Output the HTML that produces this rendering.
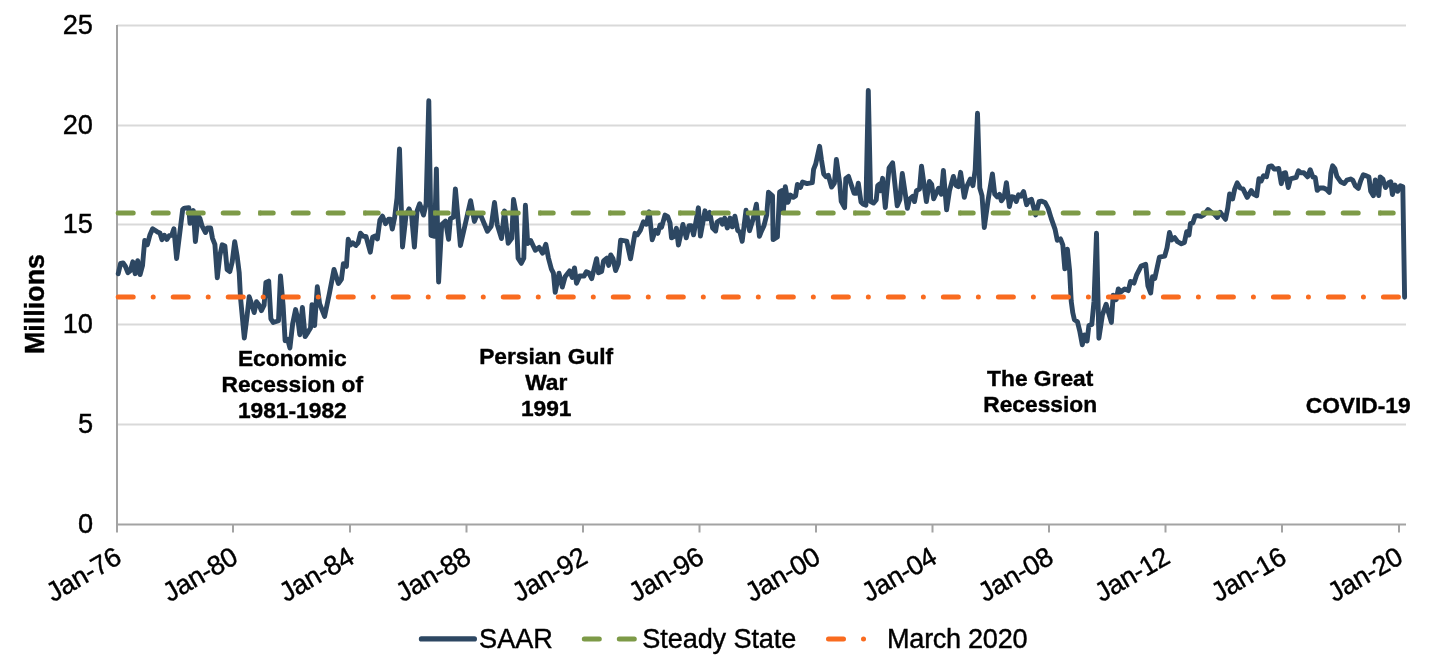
<!DOCTYPE html>
<html lang="en"><head><meta charset="utf-8"><title>SAAR chart</title>
<style>html,body{margin:0;padding:0;background:#fff}body{width:1447px;height:662px;overflow:hidden}</style></head>
<body>
<svg width="1447" height="662" viewBox="0 0 1447 662" style="display:block;font-family:'Liberation Sans',Arial,sans-serif">
<rect width="1447" height="662" fill="#fff"/>
<line x1="117.0" x2="1406.0" y1="424.5" y2="424.5" stroke="#d9d9d9" stroke-width="2"/>
<line x1="117.0" x2="1406.0" y1="324.5" y2="324.5" stroke="#d9d9d9" stroke-width="2"/>
<line x1="117.0" x2="1406.0" y1="224.5" y2="224.5" stroke="#d9d9d9" stroke-width="2"/>
<line x1="117.0" x2="1406.0" y1="125.5" y2="125.5" stroke="#d9d9d9" stroke-width="2"/>
<line x1="117.0" x2="1406.0" y1="25.5" y2="25.5" stroke="#d9d9d9" stroke-width="2"/>
<line x1="117.0" x2="117.0" y1="24.9" y2="532.5" stroke="#a3a3a3" stroke-width="2"/>
<line x1="116.0" x2="1406.0" y1="524.5" y2="524.5" stroke="#a3a3a3" stroke-width="2"/>
<line x1="233" x2="233" y1="524.5" y2="532.5" stroke="#a3a3a3" stroke-width="2"/>
<line x1="350.0" x2="350.0" y1="524.5" y2="532.5" stroke="#a3a3a3" stroke-width="2"/>
<line x1="466.5" x2="466.5" y1="524.5" y2="532.5" stroke="#a3a3a3" stroke-width="2"/>
<line x1="583.0" x2="583.0" y1="524.5" y2="532.5" stroke="#a3a3a3" stroke-width="2"/>
<line x1="699.5" x2="699.5" y1="524.5" y2="532.5" stroke="#a3a3a3" stroke-width="2"/>
<line x1="816.0" x2="816.0" y1="524.5" y2="532.5" stroke="#a3a3a3" stroke-width="2"/>
<line x1="932.5" x2="932.5" y1="524.5" y2="532.5" stroke="#a3a3a3" stroke-width="2"/>
<line x1="1049.0" x2="1049.0" y1="524.5" y2="532.5" stroke="#a3a3a3" stroke-width="2"/>
<line x1="1165.5" x2="1165.5" y1="524.5" y2="532.5" stroke="#a3a3a3" stroke-width="2"/>
<line x1="1282.0" x2="1282.0" y1="524.5" y2="532.5" stroke="#a3a3a3" stroke-width="2"/>
<line x1="1399" x2="1399" y1="524.5" y2="532.5" stroke="#a3a3a3" stroke-width="2"/>
<text x="93.0" y="533.10" font-size="27.2" text-anchor="end" fill="#000" stroke="#000" stroke-width="0.4">0</text>
<text x="93.0" y="433.10" font-size="27.2" text-anchor="end" fill="#000" stroke="#000" stroke-width="0.4">5</text>
<text x="93.0" y="333.10" font-size="27.2" text-anchor="end" fill="#000" stroke="#000" stroke-width="0.4">10</text>
<text x="93.0" y="233.10" font-size="27.2" text-anchor="end" fill="#000" stroke="#000" stroke-width="0.4">15</text>
<text x="93.0" y="134.10" font-size="27.2" text-anchor="end" fill="#000" stroke="#000" stroke-width="0.4">20</text>
<text x="93.0" y="34.10" font-size="27.2" text-anchor="end" fill="#000" stroke="#000" stroke-width="0.4">25</text>
<text transform="translate(122.95,562.20) rotate(-30)" font-size="27.1" letter-spacing="-0.35" text-anchor="end" fill="#000" stroke="#000" stroke-width="0.4">Jan-76</text>
<text transform="translate(239.45,562.20) rotate(-30)" font-size="27.1" letter-spacing="-0.35" text-anchor="end" fill="#000" stroke="#000" stroke-width="0.4">Jan-80</text>
<text transform="translate(355.95,562.20) rotate(-30)" font-size="27.1" letter-spacing="-0.35" text-anchor="end" fill="#000" stroke="#000" stroke-width="0.4">Jan-84</text>
<text transform="translate(472.45,562.20) rotate(-30)" font-size="27.1" letter-spacing="-0.35" text-anchor="end" fill="#000" stroke="#000" stroke-width="0.4">Jan-88</text>
<text transform="translate(588.95,562.20) rotate(-30)" font-size="27.1" letter-spacing="-0.35" text-anchor="end" fill="#000" stroke="#000" stroke-width="0.4">Jan-92</text>
<text transform="translate(705.45,562.20) rotate(-30)" font-size="27.1" letter-spacing="-0.35" text-anchor="end" fill="#000" stroke="#000" stroke-width="0.4">Jan-96</text>
<text transform="translate(821.95,562.20) rotate(-30)" font-size="27.1" letter-spacing="-0.35" text-anchor="end" fill="#000" stroke="#000" stroke-width="0.4">Jan-00</text>
<text transform="translate(938.45,562.20) rotate(-30)" font-size="27.1" letter-spacing="-0.35" text-anchor="end" fill="#000" stroke="#000" stroke-width="0.4">Jan-04</text>
<text transform="translate(1054.95,562.20) rotate(-30)" font-size="27.1" letter-spacing="-0.35" text-anchor="end" fill="#000" stroke="#000" stroke-width="0.4">Jan-08</text>
<text transform="translate(1171.45,562.20) rotate(-30)" font-size="27.1" letter-spacing="-0.35" text-anchor="end" fill="#000" stroke="#000" stroke-width="0.4">Jan-12</text>
<text transform="translate(1287.95,562.20) rotate(-30)" font-size="27.1" letter-spacing="-0.35" text-anchor="end" fill="#000" stroke="#000" stroke-width="0.4">Jan-16</text>
<text transform="translate(1404.45,562.20) rotate(-30)" font-size="27.1" letter-spacing="-0.35" text-anchor="end" fill="#000" stroke="#000" stroke-width="0.4">Jan-20</text>
<text transform="translate(44.2,304) rotate(-90)" font-size="26.9" font-weight="bold" text-anchor="middle" fill="#000" stroke="#000" stroke-width="0.4">Millions</text>
<polyline points="118.2,273.8 120.6,263.4 123.1,263.0 125.5,266.5 127.9,272.7 130.4,270.6 132.8,261.8 135.2,273.7 137.7,260.7 140.1,274.5 142.5,265.7 144.7,240.5 147.4,244.6 149.8,235.3 152.6,228.7 155.0,230.3 157.4,231.9 159.9,233.0 162.0,239.7 164.4,235.2 166.9,239.4 169.3,235.7 171.7,235.3 173.9,228.7 176.6,258.5 182.7,209.4 184.5,208.1 188.8,207.7 190.0,223.4 193.3,210.6 195.4,241.5 198.2,215.9 200.0,218.6 202.1,226.2 205.5,232.5 207.3,228.0 210.6,228.0 212.5,238.3 214.9,244.4 217.3,277.7 219.8,255.8 222.2,244.8 224.9,245.9 227.1,269.5 229.8,271.6 232.2,261.9 234.7,241.7 237.1,255.8 239.2,272.5 240.5,297.6 244.3,338.0 247.1,315.8 249.2,296.7 251.6,303.7 254.2,312.6 256.5,301.7 259.2,305.2 261.4,310.6 264.1,305.2 265.9,282.4 268.7,281.1 270.9,318.9 273.2,322.5 278.5,320.7 280.5,275.9 283.1,305.2 285.1,340.7 287.7,339.3 289.9,348.0 292.7,323.4 295.6,309.6 297.8,318.9 299.8,334.7 302.4,307.4 305.1,336.6 308.2,331.8 310.5,328.0 312.0,304.6 314.6,325.5 317.3,286.8 319.6,303.7 324.6,316.4 329.5,293.0 334.0,269.4 338.4,283.5 341.4,279.4 343.4,263.6 346.4,266.3 348.2,239.3 350.5,245.0 352.8,242.8 355.8,245.5 358.1,242.9 360.4,233.2 363.4,236.4 366.0,236.4 370.3,252.2 372.6,237.3 375.2,236.0 377.4,238.9 379.9,220.1 382.5,216.2 385.5,223.7 388.5,219.3 390.4,219.3 392.3,229.0 394.6,217.8 397.0,198.0 399.5,148.9 402.5,247.0 406.0,215.5 409.1,208.9 411.6,215.5 414.4,247.0 417.0,211.0 419.7,203.7 423.5,215.1 426.1,204.1 428.8,100.7 431.0,235.3 434.6,236.3 436.4,168.9 438.6,282.0 441.7,224.6 445.5,221.1 448.6,239.4 450.4,218.6 453.5,217.0 455.4,188.9 460.4,245.5 470.6,200.7 474.4,221.4 476.7,215.5 480.5,214.7 487.4,231.3 491.2,226.2 494.5,202.5 497.2,224.6 501.5,238.6 504.5,210.9 508.2,243.2 511.7,238.3 513.5,199.5 516.2,214.0 518.1,258.1 521.3,263.3 523.8,258.1 525.4,205.2 527.7,243.5 530.7,240.5 535.3,250.3 539.1,247.4 542.6,253.1 545.8,244.3 548.4,257.8 551.4,269.2 553.4,273.0 555.2,292.3 559.0,273.2 562.3,287.0 565.1,276.8 569.6,270.9 572.2,277.4 574.5,267.9 576.5,283.2 579.8,276.0 584.1,276.0 586.4,271.7 588.7,272.7 591.7,278.6 596.6,258.7 598.5,272.8 601.6,271.5 603.6,260.8 606.9,258.0 608.7,265.4 610.7,254.9 613.0,258.5 615.6,270.5 618.3,263.9 620.6,240.2 626.7,241.1 630.5,258.8 635.0,233.3 637.3,234.8 640.3,230.4 643.4,221.9 646.4,224.2 649.2,211.8 652.2,239.8 655.5,230.3 657.8,233.3 660.1,225.0 661.6,227.2 665.0,215.1 667.7,216.7 670.0,222.8 671.5,237.8 673.8,236.5 676.4,228.3 678.4,245.0 682.9,224.5 686.3,237.8 689.0,225.8 691.3,225.8 693.6,234.8 698.4,207.8 700.4,236.0 705.0,210.8 707.2,218.8 709.8,212.4 712.6,228.1 715.6,231.0 717.1,222.0 720.9,219.7 722.4,224.2 724.7,218.1 727.3,228.0 730.0,218.1 732.3,226.8 734.9,216.2 737.7,230.4 739.9,231.9 742.2,241.3 746.0,210.2 749.5,230.7 752.9,219.8 756.4,204.2 759.4,236.2 761.9,230.1 764.0,225.6 766.7,214.9 768.5,192.3 772.5,195.9 773.1,239.6 777.4,237.0 779.6,192.1 781.9,190.5 783.4,210.7 785.3,186.7 788.0,202.3 790.3,195.1 793.3,197.3 795.6,195.9 797.4,184.4 800.5,187.4 802.5,182.0 807.0,183.6 812.3,182.7 813.6,169.3 815.7,164.0 819.6,146.3 821.5,160.2 823.7,173.9 826.0,176.8 828.3,175.3 831.6,187.1 834.4,183.0 836.4,159.5 839.7,183.0 841.2,201.3 844.6,207.6 845.8,178.4 848.5,176.4 854.1,193.3 856.4,193.3 858.3,183.2 861.0,202.0 863.3,204.3 865.9,205.2 868.3,90.5 870.7,201.6 873.5,203.1 876.2,200.0 877.7,185.7 879.5,184.1 880.4,190.9 882.6,178.3 885.3,207.6 889.1,167.8 892.6,162.8 897.2,205.8 899.8,199.7 902.3,173.5 907.4,208.4 909.6,199.0 912.7,196.3 914.5,201.6 916.5,190.6 919.5,189.1 921.5,166.2 926.4,201.6 929.4,181.4 931.7,184.5 933.7,198.8 938.5,188.2 941.3,194.3 943.4,170.4 946.6,209.9 949.5,190.6 953.4,176.4 956.0,185.3 958.3,186.7 960.6,172.3 964.3,197.4 966.8,186.5 970.3,179.1 972.9,185.6 975.2,169.8 977.5,113.3 979.8,188.0 982.0,195.6 984.3,227.5 988.1,200.2 992.4,173.9 994.7,194.1 997.2,197.0 999.5,194.3 1001.4,200.8 1004.1,197.1 1006.4,182.6 1009.4,206.6 1011.7,196.7 1014.0,197.1 1016.3,201.5 1018.5,194.8 1020.8,196.2 1023.6,191.6 1026.6,204.7 1029.2,200.2 1031.5,199.3 1035.6,214.9 1039.1,201.7 1041.3,201.1 1045.1,202.5 1048.2,208.5 1051.2,218.4 1055.0,229.1 1057.3,240.3 1060.5,238.9 1062.8,244.8 1064.8,268.9 1067.4,249.2 1069.6,270.6 1071.2,301.2 1072.8,312.8 1074.4,319.7 1077.5,321.8 1079.7,330.8 1082.3,344.8 1084.4,334.9 1087.1,340.9 1088.9,325.5 1091.8,324.4 1094.0,301.2 1096.5,233.2 1098.9,338.2 1102.4,314.9 1106.1,304.2 1111.4,322.4 1113.2,295.2 1116.2,299.6 1118.3,288.9 1120.4,292.2 1124.6,288.9 1128.3,290.6 1130.5,281.5 1134.0,283.1 1136.5,275.2 1141.1,266.1 1145.7,264.4 1147.9,285.8 1150.7,293.0 1152.5,276.6 1154.8,278.5 1159.4,257.2 1164.7,256.2 1167.0,247.8 1169.5,232.5 1171.8,239.9 1174.7,237.7 1177.6,241.7 1181.4,243.8 1184.4,242.5 1186.7,231.7 1189.0,235.0 1190.5,223.4 1192.8,223.0 1195.1,216.1 1197.4,215.6 1201.2,216.4 1204.2,214.6 1208.0,209.5 1211.8,212.6 1214.1,213.9 1217.4,217.5 1220.2,212.2 1225.5,219.3 1227.8,207.8 1229.6,194.0 1232.6,198.9 1234.6,189.5 1237.2,182.9 1240.2,188.0 1243.0,188.8 1247.2,197.4 1251.3,190.5 1253.6,194.1 1256.7,195.8 1258.9,178.8 1261.2,181.0 1263.5,175.7 1266.5,176.8 1268.8,166.7 1271.6,165.9 1274.1,169.0 1276.4,169.0 1278.7,168.4 1281.3,183.7 1283.7,173.1 1285.5,172.7 1288.3,187.5 1290.4,178.9 1296.2,177.4 1298.5,170.7 1300.8,172.8 1303.8,172.8 1307.6,176.8 1310.2,169.7 1312.9,177.1 1315.2,177.4 1317.2,190.4 1319.8,188.0 1323.6,188.0 1326.6,189.5 1329.3,192.4 1330.9,172.8 1332.6,165.8 1334.8,168.5 1336.9,176.4 1340.6,181.7 1344.3,183.6 1346.9,180.1 1350.6,179.0 1352.7,180.1 1355.4,186.0 1358.3,188.5 1360.7,180.7 1363.3,174.8 1366.5,175.9 1368.9,177.0 1370.7,191.2 1373.4,195.6 1375.3,180.0 1378.7,195.6 1380.2,176.9 1382.9,179.1 1385.5,187.6 1388.7,182.8 1390.8,181.8 1392.4,194.5 1395.0,185.0 1397.7,191.3 1400.3,185.7 1402.8,186.8 1404.6,297.3" fill="none" stroke="#2d4762" stroke-width="4.9" stroke-linejoin="round" stroke-linecap="round"/>
<path d="M118.21 213h15M153.21 213h15M188.21 213h15M223.21 213h15M293.21 213h15M328.21 213h15M398.21 213h15M468.21 213h15M503.21 213h15M573.21 213h15M643.21 213h15M713.21 213h15M748.21 213h15M783.21 213h15M818.21 213h15M888.21 213h15M923.21 213h15M993.21 213h15M1063.21 213h15M1098.21 213h15M1168.21 213h15M1203.21 213h15M1238.21 213h15M1308.21 213h15M1343.21 213h15M260.71 213h12.5M365.71 213h12.5M435.71 213h12.5M540.71 213h12.5M610.71 213h12.5M680.71 213h12.5M855.71 213h12.5M960.71 213h12.5M1030.71 213h12.5M1135.71 213h12.5M1275.71 213h12.5M1380.71 213h12.5" fill="none" stroke="#7d9a47" stroke-width="5" stroke-linecap="round"/>
<path d="M258.21 213h3M363.21 213h3M433.21 213h3M538.21 213h3M608.21 213h3M678.21 213h3M853.21 213h3M958.21 213h3M1028.21 213h3M1133.21 213h3M1273.21 213h3M1378.21 213h3" fill="none" stroke="#7d9a47" stroke-width="5" stroke-linecap="butt"/>
<line x1="118.21" x2="1404.79" y1="297.1" y2="297.1" stroke="#f96b1f" stroke-width="5" stroke-linecap="round" stroke-dasharray="15 20 0.01 20"/>
<text x="292.3" y="366.3" font-size="22.75" font-weight="bold" text-anchor="middle" fill="#000" stroke="#000" stroke-width="0.4">Economic</text>
<text x="292.3" y="392.2" font-size="22.75" font-weight="bold" text-anchor="middle" fill="#000" stroke="#000" stroke-width="0.4">Recession of</text>
<text x="292.3" y="418.1" font-size="22.75" font-weight="bold" text-anchor="middle" fill="#000" stroke="#000" stroke-width="0.4">1981-1982</text>
<text x="546.2" y="364.3" font-size="22.75" font-weight="bold" text-anchor="middle" fill="#000" stroke="#000" stroke-width="0.4">Persian Gulf</text>
<text x="546.2" y="390.2" font-size="22.75" font-weight="bold" text-anchor="middle" fill="#000" stroke="#000" stroke-width="0.4">War</text>
<text x="546.2" y="416.1" font-size="22.75" font-weight="bold" text-anchor="middle" fill="#000" stroke="#000" stroke-width="0.4">1991</text>
<text x="1040.2" y="385.8" font-size="22.75" font-weight="bold" text-anchor="middle" fill="#000" stroke="#000" stroke-width="0.4">The Great</text>
<text x="1040.2" y="411.7" font-size="22.75" font-weight="bold" text-anchor="middle" fill="#000" stroke="#000" stroke-width="0.4">Recession</text>
<text x="1358.2" y="413.0" font-size="22.75" font-weight="bold" text-anchor="middle" fill="#000" stroke="#000" stroke-width="0.4">COVID-19</text>
<line x1="421.4" x2="474.4" y1="638.9" y2="638.9" stroke="#2d4762" stroke-width="5.2" stroke-linecap="round"/>
<text x="479.1" y="647.6" font-size="27.1" fill="#000" stroke="#000" stroke-width="0.4">SAAR</text>
<line x1="584.3" x2="637" y1="638.9" y2="638.9" stroke="#7d9a47" stroke-width="5" stroke-linecap="round" stroke-dasharray="15 20"/>
<text x="642.3" y="647.7" font-size="27.1" letter-spacing="-0.1" fill="#000" stroke="#000" stroke-width="0.4">Steady State</text>
<line x1="828.5" x2="870" y1="638.9" y2="638.9" stroke="#f96b1f" stroke-width="5" stroke-linecap="round" stroke-dasharray="15 20 0.01 20"/>
<text x="887.1" y="647.7" font-size="27.1" letter-spacing="-0.3" fill="#000" stroke="#000" stroke-width="0.4">March 2020</text>
</svg>
</body></html>
